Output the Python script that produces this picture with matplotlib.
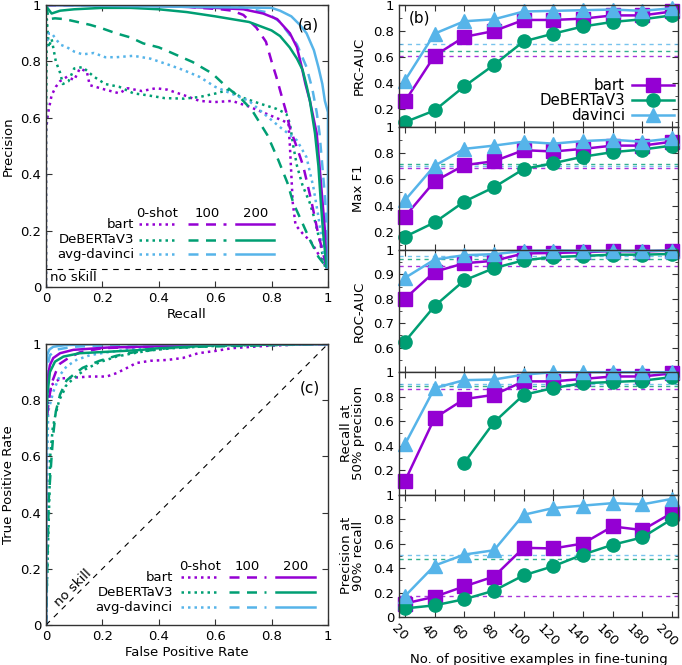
import matplotlib.pyplot as plt
import matplotlib.transforms as mtransforms
import numpy as np
from matplotlib.ticker import MultipleLocator, FormatStrFormatter

plt.rcParams['font.family'] = ['DejaVu Sans']
plt.rcParams['font.size'] = 9.5

PURPLE = '#9400d3'
GREEN = '#009e73'
BLUE = '#56b4e9'
colors = [PURPLE, GREEN, BLUE]
DOT = (0, (1, 1.6))
DASH = (0, (4, 3))
styles = [DOT, DASH, '-']

# ---------------- (a) precision / recall curves ----------------
pr_bart_0_r = [0.0, 0.0, 0.005, 0.01, 0.02, 0.035, 0.05, 0.075, 0.1, 0.12, 0.145, 0.155, 0.21, 0.26, 0.29,
               0.34, 0.39, 0.43, 0.49, 0.545, 0.6, 0.66, 0.72, 0.78, 0.84, 0.86, 0.865, 0.87, 0.875, 0.885,
               0.91, 0.94, 0.97, 0.995]
pr_bart_0_p = [0.0, 0.55, 0.6, 0.63, 0.68, 0.71, 0.73, 0.746, 0.734, 0.775, 0.764, 0.716, 0.70, 0.687, 0.705,
               0.695, 0.705, 0.70, 0.68, 0.66, 0.656, 0.66, 0.64, 0.615, 0.59, 0.58, 0.50, 0.40, 0.30, 0.22,
               0.19, 0.16, 0.11, 0.07]
pr_bart_100_r = [0.0, 0.45, 0.545, 0.62, 0.66, 0.7, 0.746, 0.78, 0.80, 0.817, 0.835, 0.852, 0.864, 0.888,
                 0.912, 0.94, 0.965, 0.99, 1.0]
pr_bart_100_p = [1.0, 1.0, 0.99, 0.985, 0.98, 0.965, 0.92, 0.87, 0.80, 0.745, 0.68, 0.62, 0.567, 0.50,
                 0.43, 0.31, 0.19, 0.09, 0.07]
pr_bart_200_r = [0.0, 0.3, 0.6, 0.7, 0.77, 0.82, 0.865, 0.89, 0.907, 0.92, 0.936, 0.96, 0.97, 0.98, 0.99, 0.995]
pr_bart_200_p = [1.0, 1.0, 0.99, 0.985, 0.97, 0.95, 0.90, 0.85, 0.78, 0.72, 0.66, 0.545, 0.43, 0.31, 0.19, 0.07]

pr_deb_0_r = [0.0, 0.0, 0.003, 0.01, 0.02, 0.035, 0.05, 0.06, 0.08, 0.1, 0.13, 0.17, 0.21, 0.26, 0.31, 0.36,
              0.42, 0.49, 0.545, 0.6, 0.65, 0.69, 0.76, 0.817, 0.852, 0.865, 0.877, 0.89, 0.91, 0.935, 0.95,
              0.97, 0.99]
pr_deb_0_p = [0.0, 0.5, 0.95, 0.85, 0.88, 0.80, 0.76, 0.72, 0.73, 0.775, 0.78, 0.746, 0.72, 0.71, 0.687, 0.68,
              0.67, 0.668, 0.674, 0.686, 0.70, 0.674, 0.65, 0.632, 0.615, 0.58, 0.50, 0.43, 0.36, 0.30, 0.25,
              0.167, 0.07]
pr_deb_100_r = [0.0, 0.01, 0.032, 0.067, 0.156, 0.2, 0.248, 0.3, 0.345, 0.4, 0.44, 0.52, 0.59, 0.64, 0.69,
                0.73, 0.785, 0.824, 0.856, 0.877, 0.907, 0.936, 0.966, 0.995]
pr_deb_100_p = [1.0, 0.95, 0.953, 0.95, 0.93, 0.917, 0.90, 0.885, 0.864, 0.85, 0.833, 0.798, 0.757, 0.71, 0.67,
                0.628, 0.539, 0.45, 0.37, 0.298, 0.232, 0.167, 0.107, 0.07]
pr_deb_200_r = [0.0, 0.005, 0.02, 0.05, 0.1, 0.2, 0.3, 0.4, 0.5, 0.6, 0.72, 0.8, 0.83, 0.864, 0.89, 0.91,
                0.925, 0.936, 0.954, 0.966, 0.974, 0.983, 0.995]
pr_deb_200_p = [1.0, 0.99, 0.97, 0.98, 0.985, 0.99, 0.99, 0.985, 0.975, 0.96, 0.94, 0.91, 0.89, 0.85, 0.81,
                0.77, 0.71, 0.66, 0.545, 0.43, 0.31, 0.19, 0.07]

pr_dav_0_r = [0.0, 0.01, 0.02, 0.05, 0.075, 0.1, 0.13, 0.17, 0.21, 0.25, 0.31, 0.37, 0.43, 0.486, 0.545,
              0.6, 0.66, 0.72, 0.77, 0.83, 0.89, 0.924, 0.948, 0.966, 0.983, 0.995]
pr_dav_0_p = [0.85, 0.9, 0.9, 0.86, 0.85, 0.835, 0.825, 0.83, 0.815, 0.815, 0.82, 0.81, 0.79, 0.77, 0.745,
              0.71, 0.685, 0.66, 0.617, 0.567, 0.52, 0.46, 0.355, 0.25, 0.13, 0.07]
pr_dav_100_r = [0.0, 0.6, 0.7, 0.78, 0.83, 0.86, 0.89, 0.924, 0.945, 0.96, 0.97, 0.98, 0.99, 0.995, 1.0]
pr_dav_100_p = [1.0, 1.0, 0.99, 0.975, 0.94, 0.90, 0.86, 0.78, 0.70, 0.62, 0.545, 0.43, 0.31, 0.19, 0.07]
pr_dav_200_r = [0.0, 0.8, 0.83, 0.87, 0.9, 0.924, 0.95, 0.966, 0.98, 0.989, 1.0, 1.0]
pr_dav_200_p = [1.0, 0.99, 0.98, 0.96, 0.93, 0.90, 0.84, 0.78, 0.72, 0.66, 0.62, 0.07]

pr_no_skill = 0.063

# ---------------- (c) ROC curves ----------------
roc_bart_0_f = [0, 0.0, 0.002, 0.008, 0.02, 0.05, 0.097, 0.156, 0.215, 0.25, 0.286, 0.32, 0.37, 0.43, 0.485,
                0.54, 0.6, 0.66, 0.78, 0.9, 1.0]
roc_bart_0_t = [0, 0.5, 0.675, 0.795, 0.854, 0.877, 0.88, 0.884, 0.884, 0.896, 0.914, 0.932, 0.94, 0.943, 0.95,
                0.967, 0.975, 0.985, 0.993, 0.998, 1.0]
roc_bart_100_f = [0, 0.0, 0.01, 0.02, 0.035, 0.05, 0.08, 0.12, 0.2, 0.35, 0.6, 1.0]
roc_bart_100_t = [0, 0.7, 0.8, 0.86, 0.9, 0.93, 0.95, 0.97, 0.985, 0.99, 0.998, 1.0]
roc_bart_200_f = [0, 0.0, 0.003, 0.008, 0.014, 0.026, 0.05, 0.097, 0.215, 0.33, 0.6, 1.0]
roc_bart_200_t = [0, 0.8, 0.85, 0.89, 0.925, 0.95, 0.967, 0.979, 0.987, 0.99, 0.998, 1.0]

roc_deb_0_f = [0, 0.005, 0.012, 0.015, 0.024, 0.032, 0.047, 0.062, 0.07, 0.095, 0.14, 0.19, 0.25, 0.31, 0.37,
               0.45, 0.6, 0.8, 1.0]
roc_deb_0_t = [0, 0.2, 0.45, 0.6, 0.7, 0.74, 0.8, 0.83, 0.85, 0.875, 0.91, 0.935, 0.955, 0.967, 0.977,
               0.985, 0.993, 0.998, 1.0]
roc_deb_100_f = [0, 0.01, 0.02, 0.026, 0.035, 0.05, 0.073, 0.097, 0.13, 0.19, 0.25, 0.31, 0.43, 0.54, 0.78, 1.0]
roc_deb_100_t = [0, 0.45, 0.6, 0.68, 0.76, 0.82, 0.87, 0.89, 0.915, 0.94, 0.958, 0.97, 0.985, 0.99, 0.995, 1.0]
roc_deb_200_f = [0, 0.0, 0.005, 0.014, 0.032, 0.062, 0.12, 0.215, 0.33, 0.39, 0.6, 1.0]
roc_deb_200_t = [0, 0.6, 0.818, 0.9, 0.937, 0.955, 0.967, 0.972, 0.978, 0.984, 0.995, 1.0]

roc_dav_0_f = [0, 0.003, 0.008, 0.026, 0.05, 0.073, 0.108, 0.156, 0.215, 0.31, 0.5, 1.0]
roc_dav_0_t = [0, 0.5, 0.76, 0.83, 0.89, 0.92, 0.943, 0.96, 0.97, 0.982, 0.995, 1.0]
roc_dav_100_f = [0, 0.0, 0.005, 0.014, 0.038, 0.097, 0.3, 1.0]
roc_dav_100_t = [0, 0.85, 0.92, 0.96, 0.98, 0.99, 0.998, 1.0]
roc_dav_200_f = [0, 0.0, 0.004, 0.012, 0.026, 0.07, 0.2, 1.0]
roc_dav_200_t = [0, 0.9, 0.96, 0.98, 0.99, 0.996, 0.999, 1.0]

# ---------------- (b) metrics vs. number of positive examples ----------------
n_pos = [20, 40, 60, 80, 100, 120, 140, 160, 180, 200]
nan = np.nan

prc_auc_bart = [0.26, 0.61, 0.755, 0.80, 0.885, 0.885, 0.895, 0.92, 0.92, 0.95]
prc_auc_deb = [0.10, 0.19, 0.375, 0.54, 0.72, 0.78, 0.835, 0.87, 0.89, 0.92]
prc_auc_dav = [0.42, 0.78, 0.875, 0.89, 0.95, 0.955, 0.96, 0.965, 0.955, 0.975]
prc_auc_zero = [0.605, 0.645, 0.697]

maxf1_bart = [0.315, 0.585, 0.71, 0.74, 0.825, 0.815, 0.835, 0.86, 0.86, 0.89]
maxf1_deb = [0.16, 0.27, 0.43, 0.54, 0.68, 0.725, 0.775, 0.81, 0.83, 0.86]
maxf1_dav = [0.44, 0.705, 0.835, 0.86, 0.89, 0.875, 0.895, 0.905, 0.89, 0.915]
maxf1_zero = [0.69, 0.72, 0.70]

roc_auc_bart = [0.80, 0.91, 0.945, 0.955, 0.985, 0.987, 0.99, 0.995, 0.993, 0.997]
roc_auc_deb = [0.625, 0.77, 0.875, 0.925, 0.957, 0.97, 0.975, 0.98, 0.98, 0.983]
roc_auc_dav = [0.885, 0.96, 0.978, 0.982, 0.995, 0.997, 0.995, 0.995, 0.995, 0.997]
roc_auc_zero = [0.933, 0.962, 0.976]

rec50_bart = [0.11, 0.625, 0.78, 0.815, 0.925, 0.925, 0.945, 0.965, 0.965, 0.99]
rec50_deb = [nan, nan, 0.26, 0.59, 0.815, 0.87, 0.91, 0.92, 0.93, 0.96]
rec50_dav = [0.41, 0.87, 0.935, 0.94, 0.98, 1.0, 1.0, 1.0, 1.0, 1.0]
rec50_zero = [0.86, 0.89, 0.90]

prec90_bart = [0.11, 0.165, 0.25, 0.33, 0.565, 0.56, 0.60, 0.74, 0.71, 0.85]
prec90_deb = [0.07, 0.095, 0.145, 0.215, 0.34, 0.415, 0.51, 0.59, 0.65, 0.80]
prec90_dav = [0.17, 0.42, 0.51, 0.545, 0.835, 0.89, 0.91, 0.93, 0.92, 0.965]
prec90_zero = [0.17, 0.477, 0.506]

model_keys = ['bart', 'DeBERTaV3', 'avg-davinci']
shot_keys = ['0-shot', '100', '200']
model_names_b = ['bart', 'DeBERTaV3', 'davinci']
markers = ['s', 'o', '^']
msizes = [9.5, 9.5, 10]

fig = plt.figure(figsize=(6.82, 6.65), dpi=100)
BORDER = '#333333'


def style_box(ax):
    for s in ax.spines.values():
        s.set_color(BORDER)
        s.set_linewidth(1.0)
    ax.tick_params(which='both', direction='in', top=True, right=True, color=BORDER)
    ax.tick_params(which='major', length=4.5)
    ax.tick_params(which='minor', length=2.5)
    ax.yaxis.set_major_formatter(FormatStrFormatter('%g'))


def curve_key(ax, x_text, cols, rows, y_head):
    # 3 x 3 line-style key: rows = models, columns = amount of fine-tuning
    for name, color, y in zip(model_keys, colors, rows):
        ax.text(x_text, y, name, transform=ax.transAxes, ha='right', va='center', fontsize=9.5)
        for (x0, x1), ls in zip(cols, styles):
            ax.plot([x0, x1], [y, y], transform=ax.transAxes, color=color, ls=ls, lw=1.8)
    for (x0, x1), head in zip(cols, shot_keys):
        ax.text((x0 + x1) / 2, y_head, head, transform=ax.transAxes, ha='center', va='center', fontsize=9.5)


def unit_box(ax):
    ax.set_xlim(0, 1)
    ax.set_ylim(0, 1)
    ax.set_xticks(np.arange(0, 1.01, 0.2))
    ax.set_yticks(np.arange(0, 1.01, 0.2))
    ax.xaxis.set_major_formatter(FormatStrFormatter('%g'))
    style_box(ax)


# ---- panel (a)
ax_a = fig.add_axes([0.0674, 0.5684, 0.4135, 0.424])
pr_curves = [
    [(pr_bart_0_r, pr_bart_0_p), (pr_bart_100_r, pr_bart_100_p), (pr_bart_200_r, pr_bart_200_p)],
    [(pr_deb_0_r, pr_deb_0_p), (pr_deb_100_r, pr_deb_100_p), (pr_deb_200_r, pr_deb_200_p)],
    [(pr_dav_0_r, pr_dav_0_p), (pr_dav_100_r, pr_dav_100_p), (pr_dav_200_r, pr_dav_200_p)],
]
for k, ls in enumerate(styles):
    for m, color in enumerate(colors):
        r, p = pr_curves[m][k]
        ax_a.plot(r, p, color=color, ls=ls, lw=1.8)
ax_a.axhline(pr_no_skill, color='black', ls=(0, (5, 5)), lw=0.8)
ax_a.text(0.015, 0.035, 'no skill', fontsize=9.5, va='center')
ax_a.text(0.93, 0.93, '(a)', fontsize=11, ha='center', va='center')
unit_box(ax_a)
ax_a.set_xlabel('Recall', labelpad=2)
ax_a.set_ylabel('Precision')
curve_key(ax_a, 0.313, [(0.33, 0.46), (0.505, 0.64), (0.675, 0.81)], [0.222, 0.168, 0.116], 0.262)

# ---- panel (c)
ax_c = fig.add_axes([0.0674, 0.0602, 0.4135, 0.4226])
roc_curves = [
    [(roc_bart_0_f, roc_bart_0_t), (roc_bart_100_f, roc_bart_100_t), (roc_bart_200_f, roc_bart_200_t)],
    [(roc_deb_0_f, roc_deb_0_t), (roc_deb_100_f, roc_deb_100_t), (roc_deb_200_f, roc_deb_200_t)],
    [(roc_dav_0_f, roc_dav_0_t), (roc_dav_100_f, roc_dav_100_t), (roc_dav_200_f, roc_dav_200_t)],
]
for k, ls in enumerate(styles):
    for m, color in enumerate(colors):
        f, t = roc_curves[m][k]
        ax_c.plot(f, t, color=color, ls=ls, lw=1.8)
ax_c.plot([0, 1], [0, 1], color='black', ls=(0, (5, 5)), lw=0.8)
ax_c.text(0.095, 0.13, 'no skill', fontsize=9.5, rotation=45, ha='center', va='center')
ax_c.text(0.935, 0.842, '(c)', fontsize=11, ha='center', va='center')
unit_box(ax_c)
ax_c.set_xlabel('False Positive Rate', labelpad=2)
ax_c.set_ylabel('True Positive Rate')
curve_key(ax_c, 0.45, [(0.48, 0.61), (0.65, 0.78), (0.817, 0.953)], [0.17, 0.116, 0.063], 0.208)

# ---- panel (b)
panels = [
    ('PRC-AUC', [prc_auc_bart, prc_auc_deb, prc_auc_dav], prc_auc_zero, (0.06, 1.0), np.arange(0.2, 1.01, 0.2), 0.1),
    ('Max F1', [maxf1_bart, maxf1_deb, maxf1_dav], maxf1_zero, (0.06, 1.0), np.arange(0.2, 1.01, 0.2), 0.1),
    ('ROC-AUC', [roc_auc_bart, roc_auc_deb, roc_auc_dav], roc_auc_zero, (0.5, 1.0), np.arange(0.6, 1.01, 0.1), 0.05),
    ('Recall at\n50% precision', [rec50_bart, rec50_deb, rec50_dav], rec50_zero, (0.0, 1.0),
     np.arange(0.2, 1.01, 0.2), 0.1),
    ('Precision at\n90% recall', [prec90_bart, prec90_deb, prec90_dav], prec90_zero, (0.0, 1.0),
     np.arange(0.0, 1.01, 0.2), 0.1),
]
b_left, b_width = 0.585, 0.409
b_bottom, b_h = 0.0722, 0.18406
axes_b = []
shift_left = mtransforms.ScaledTranslation(-4 / 72, 0, fig.dpi_scale_trans)
for i, (label, series, zero, ylim, yticks, minor) in enumerate(panels):
    ax = fig.add_axes([b_left, b_bottom + (4 - i) * b_h, b_width, b_h])
    axes_b.append(ax)
    for color, z in zip(colors, zero):
        ax.axhline(z, color=color, ls=(0, (3, 3)), lw=1.0, alpha=0.8)
    for vals, color, mk, ms, name in zip(series, colors, markers, msizes, model_names_b):
        ax.plot(n_pos, vals, color=color, lw=1.8, marker=mk, ms=ms, label=name, clip_on=False)
    ax.set_xlim(16, 204)
    ax.set_ylim(*ylim)
    ax.set_yticks(yticks)
    ax.yaxis.set_minor_locator(MultipleLocator(minor))
    ax.set_xticks(n_pos)
    style_box(ax)
    ax.set_ylabel(label, linespacing=0.9)
    ax.yaxis.set_label_coords(-0.12, 0.5)
    if i < 4:
        ax.tick_params(labelbottom=False)
    else:
        ax.set_xticklabels([str(v) for v in n_pos], rotation=-45, ha='center', va='top')
        for lab in ax.get_xticklabels():
            lab.set_transform(lab.get_transform() + shift_left)
        ax.set_xlabel('No. of positive examples in fine-tuning', labelpad=3)

axes_b[0].text(0.035, 0.89, '(b)', transform=axes_b[0].transAxes, fontsize=11, va='center')
axes_b[0].legend(loc='lower right', bbox_to_anchor=(0.985, 0.035), markerfirst=False, frameon=False,
                 handlelength=2.8, handletextpad=0.45, labelspacing=0.0, fontsize=10.8,
                 borderaxespad=0.0, borderpad=0.0)

fig.savefig('out.png', dpi=100)
